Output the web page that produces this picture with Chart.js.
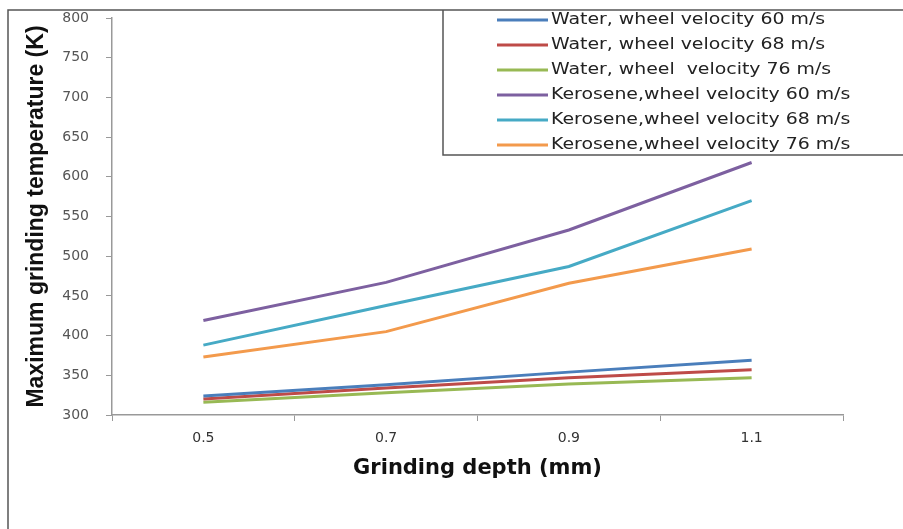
<!DOCTYPE html>
<html>
<head>
<meta charset="utf-8">
<script src="https://cdn.jsdelivr.net/npm/chart.js@4.4.1/dist/chart.umd.min.js"></script>
<style>
  html, body { margin: 0; padding: 0; background: #fff; }
  #wrap { width: 903px; height: 529px; position: relative; }
</style>
</head>
<body>
<div id="wrap"><canvas id="lineChart" width="903" height="529"></canvas></div>
<script>
var depths = ['0.5', '0.7', '0.9', '1.1'];
var yTicks = [300, 350, 400, 450, 500, 550, 600, 650, 700, 750, 800];

var water60 = [324, 338, 354, 369];
var water68 = [320, 334, 347, 357];
var water76 = [316, 328, 339, 347];
var kero60 = [419, 467, 533, 618];
var kero68 = [388, 438, 487, 570];
var kero76 = [373, 405, 466, 509];

var seriesLabels = [
    'Water, wheel velocity 60 m/s',
    'Water, wheel velocity 68 m/s',
    'Water, wheel  velocity 76 m/s',
    'Kerosene,wheel velocity 60 m/s',
    'Kerosene,wheel velocity 68 m/s',
    'Kerosene,wheel velocity 76 m/s'
];
var seriesColors = ['#4a7ebb', '#be4b48', '#98b954', '#7d60a0', '#46aac5', '#f39a4c'];
var seriesData = [water60, water68, water76, kero60, kero68, kero76];

// frame around the figure + boxed legend in the top right corner
var frameLegend = {
    id: 'frameLegend',
    afterDraw: function (chart) {
        var c = chart.ctx;
        c.save();
        c.strokeStyle = '#555';
        c.lineWidth = 1.5;
        c.beginPath();
        c.moveTo(8, 529);
        c.lineTo(8, 10);
        c.lineTo(903, 10);
        c.stroke();
        c.beginPath();
        c.moveTo(443, 10);
        c.lineTo(443, 155);
        c.lineTo(903, 155);
        c.stroke();

        chart.data.datasets.forEach(function (ds, i) {
            var y = 20 + i * 25;
            c.strokeStyle = ds.borderColor;
            c.lineWidth = 3;
            c.beginPath();
            c.moveTo(497, y);
            c.lineTo(548, y);
            c.stroke();
            // source text is stretched sideways, so widen it a bit
            c.save();
            c.translate(551, y);
            c.scale(1.18, 1);
            c.font = '16px "DejaVu Sans"';
            c.textBaseline = 'middle';
            c.textAlign = 'left';
            c.fillStyle = '#222';
            c.fillText(ds.label, 0, 0);
            c.restore();
        });
        c.restore();
    }
};

var ctx = document.getElementById('lineChart').getContext('2d');
var myChart = new Chart(ctx, {
    type: 'line',
    data: {
        labels: depths,
        datasets: seriesData.map(function (d, i) {
            return {
                label: seriesLabels[i],
                data: d,
                borderColor: seriesColors[i],
                backgroundColor: seriesColors[i],
                borderWidth: 3,
                pointRadius: 0,
                tension: 0,
                fill: false
            };
        })
    },
    plugins: [frameLegend],
    options: {
        responsive: false,
        animation: false,
        layout: {
            padding: { left: 19, right: 60, top: 18, bottom: 44 }
        },
        plugins: {
            legend: { display: false },
            title: { display: false },
            tooltip: { enabled: false }
        },
        scales: {
            x: {
                offset: true,
                grid: {
                    offset: true,
                    drawOnChartArea: false,
                    drawTicks: true,
                    tickLength: 6,
                    color: '#999'
                },
                border: { color: '#999', width: 1.5 },
                ticks: {
                    color: '#333',
                    font: { family: 'DejaVu Sans', size: 14 },
                    padding: 9
                },
                title: {
                    display: true,
                    text: 'Grinding depth (mm)',
                    color: '#111',
                    font: { family: 'DejaVu Sans', size: 21, weight: '600' },
                    padding: { top: 4, bottom: 4 }
                },
                afterFit: function (axis) { axis.height = 70; }
            },
            y: {
                min: 300,
                max: 800,
                afterBuildTicks: function (axis) {
                    axis.ticks = yTicks.map(function (v) { return { value: v }; });
                },
                grid: {
                    drawOnChartArea: false,
                    drawTicks: true,
                    tickLength: 6,
                    color: '#999'
                },
                border: { color: '#999', width: 1.5 },
                ticks: {
                    color: '#555',
                    font: { family: 'DejaVu Sans', size: 14 },
                    padding: 17
                },
                title: {
                    display: true,
                    text: 'Maximum grinding temperature (K)',
                    color: '#111',
                    font: { family: "'Liberation Sans', Arial, sans-serif", size: 23, weight: 'bold' },
                    padding: { top: 4, bottom: 4 }
                },
                afterFit: function (axis) {
                    axis.width = 93;
                    // label padding would otherwise push the plot down
                    axis.paddingTop = 0;
                    axis.paddingBottom = 0;
                }
            }
        }
    }
});
</script>
</body>
</html>
